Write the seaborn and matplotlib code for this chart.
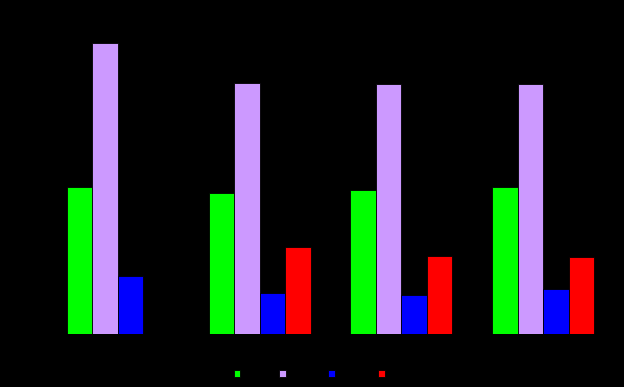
import matplotlib
matplotlib.use("Agg")
import matplotlib.pyplot as plt
import seaborn as sns
import numpy as np
import pandas as pd

categories = ["Q1", "Q2", "Q3", "Q4"]
series_names = ["Low", "High", "Base", "Net"]
series_a = [147, 141, 144, 147]
series_b = [291, 251, 250, 250]
series_c = [58, 41, 39, 45]
series_d = [np.nan, 87, 78, 77]
colors = ["#00ff00", "#cc99ff", "#0000ff", "#ff0000"]

rows = []
for name, vals in zip(series_names, [series_a, series_b, series_c, series_d]):
    for c, v in zip(categories, vals):
        rows.append({"category": c, "series": name, "value": v})
df = pd.DataFrame(rows)

sns.set_style("dark")
fig = plt.figure(figsize=(6.24, 3.87), dpi=100, facecolor="black")
ax = fig.add_axes([47/624, 53/387, 567/624, 310/387])
ax.set_facecolor("black")

sns.barplot(data=df, x="category", y="value", hue="series", hue_order=series_names,
            palette=colors, width=0.72, edgecolor="black", linewidth=0.6,
            saturation=1, ax=ax, errorbar=None)

ax.set_ylim(0, 310)
ax.set_xlim(-0.5, 3.5)
ax.set_xlabel("")
ax.set_ylabel("")
ax.grid(False)
for s in ax.spines.values():
    s.set_visible(False)
ax.tick_params(colors="black", length=0, labelsize=8)
ax.set_yticks([])

leg = ax.legend(loc="center", bbox_to_anchor=(322/624, 13/387), bbox_transform=fig.transFigure,
                ncol=4, frameon=False, fontsize=8, handlelength=0.6, handleheight=0.6,
                handletextpad=0.5, columnspacing=1.0)
for t in leg.get_texts():
    t.set_color("black")

fig.savefig("out.png", dpi=100, facecolor="black")
